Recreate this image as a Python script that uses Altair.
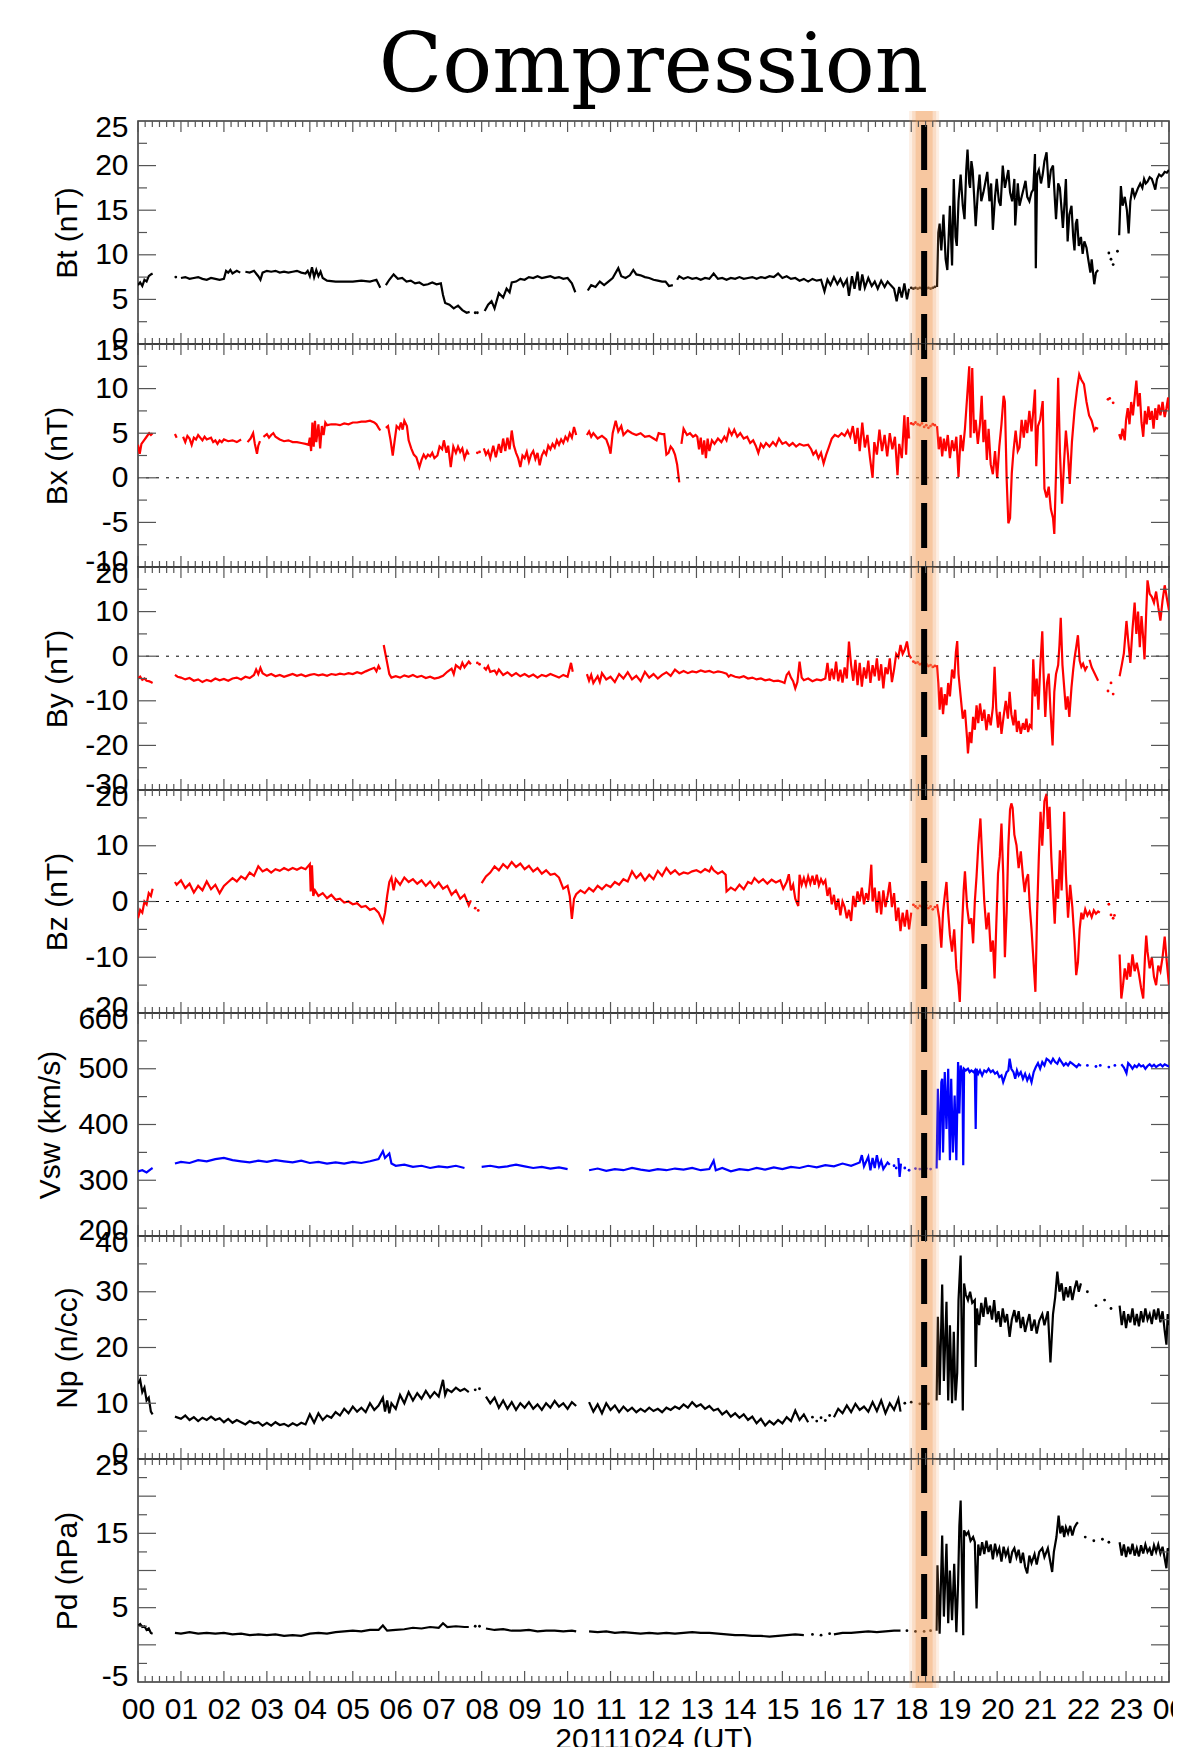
import altair as alt
import pandas as pd

W, H = 1031, 223
SHOCK_T = 18.3
TICK = "#555555"
FONT = "Liberation Sans"
TITLE_TEXT = ["Compression"]

# ---------------- data (hour, value) ----------------
BT_SEGS = [
    [(0.0,6.6),(0.05,6.9),(0.1,6.5),(0.15,7.2),(0.2,7.0),(0.25,7.6),(0.3,7.8),(0.34,7.9)],
    [(1.0,7.4),(1.1,7.5),(1.2,7.3),(1.3,7.4),(1.4,7.5),(1.5,7.3),(1.6,7.2),(1.7,7.4),(1.8,7.3),(1.9,7.2),(2.0,7.3),
     (2.05,8.2),(2.1,8.0),(2.15,8.3),(2.2,7.9),(2.3,8.2),(2.38,8.0)],
    [(2.5,8.1),(2.6,8.0),(2.7,8.2),(2.8,7.6),(2.85,7.2),(2.9,8.0),(3.0,8.2),(3.1,8.1),(3.2,8.2),(3.3,8.0),(3.4,8.1),
     (3.5,8.0),(3.6,8.1),(3.7,8.2),(3.8,8.0),(3.9,7.9),(3.95,8.2),(4.0,7.6),(4.05,8.6),(4.1,7.5),(4.15,8.3),(4.2,7.6),
     (4.25,8.1),(4.3,7.4),(4.4,7.1),(4.6,7.0),(4.8,7.0),(5.0,7.0),(5.2,7.1),(5.4,7.0),(5.55,7.2),(5.64,6.3)],
    [(5.77,6.6),(5.85,7.2),(5.95,7.8),(6.05,7.3),(6.15,7.4),(6.25,7.0),(6.35,7.1),(6.45,6.8),(6.55,6.9),(6.65,6.6),
     (6.75,6.7),(6.85,6.9),(6.95,6.7),(7.05,6.8),(7.1,5.5),(7.15,4.6),(7.25,4.4),(7.35,4.0),(7.45,4.3),(7.55,3.8),
     (7.65,3.5),(7.72,3.6)],
    [(8.07,3.7),(8.15,4.4),(8.23,4.8),(8.3,4.0),(8.4,5.7),(8.5,5.2),(8.58,6.2),(8.65,5.8),(8.7,6.9),(8.8,7.0),(8.9,7.3),
     (9.0,7.2),(9.1,7.5),(9.2,7.4),(9.3,7.6),(9.4,7.4),(9.5,7.5),(9.6,7.6),(9.7,7.4),(9.8,7.5),(9.9,7.3),(10.0,7.4),
     (10.1,6.8),(10.18,5.8)],
    [(10.47,6.0),(10.55,6.6),(10.65,6.4),(10.75,7.0),(10.85,6.6),(10.95,7.0),(11.05,7.4),(11.18,8.5),(11.25,7.6),
     (11.35,7.4),(11.45,7.7),(11.53,8.3),(11.6,7.8),(11.7,7.7),(11.8,7.5),(11.9,7.4),(12.0,7.2),(12.1,7.1),(12.2,7.0),
     (12.28,7.0),(12.36,6.5),(12.45,6.6)],
    [(12.55,7.2),(12.6,7.6),(12.7,7.3),(12.8,7.5),(12.9,7.3),(13.0,7.4),(13.1,7.2),(13.2,7.4),(13.3,7.3),(13.4,7.9),
     (13.5,7.3),(13.6,7.4),(13.7,7.2),(13.8,7.4),(13.9,7.3),(14.0,7.5),(14.1,7.3),(14.2,7.4),(14.3,7.5),(14.4,7.3),
     (14.5,7.5),(14.6,7.4),(14.7,7.6),(14.8,7.5),(14.9,7.9),(15.0,7.4),(15.1,7.6),(15.2,7.3),(15.3,7.4),(15.4,7.1),
     (15.5,7.3),(15.6,7.0),(15.7,7.3),(15.8,7.1),(15.9,7.2),(15.98,5.9),(16.05,7.2),(16.12,6.6),(16.2,7.5),(16.28,6.7),
     (16.35,7.3),(16.42,6.5),(16.5,7.2),(16.55,5.4),(16.62,7.6),(16.68,6.2),(16.75,8.1),(16.8,6.0),(16.86,7.8),
     (16.92,6.3),(17.0,7.4),(17.08,6.5),(17.15,7.0),(17.22,6.2),(17.3,7.1),(17.38,6.4),(17.45,7.0),(17.52,6.6),
     (17.6,6.2),(17.66,4.8),(17.72,6.4),(17.78,5.2),(17.84,6.8),(17.9,5.0),(17.95,6.2)],
    [(18.6,6.4),(18.63,12.5),(18.66,13.5),(18.7,10.5),(18.75,14.5),(18.8,9.5),(18.84,8.3),(18.9,15.5),(18.95,8.8),
     (18.99,18.5),(19.03,12.0),(19.06,11.0),(19.1,16.0),(19.15,19.0),(19.2,15.5),(19.24,14.0),(19.28,19.5),(19.31,21.8),
     (19.35,18.0),(19.37,17.5),(19.4,20.5),(19.43,19.5),(19.47,16.0),(19.5,13.2),(19.55,17.0),(19.59,19.0),(19.63,16.0),
     (19.68,17.0),(19.72,18.0),(19.77,19.3),(19.82,16.0),(19.86,18.0),(19.9,12.8),(19.95,16.5),(19.99,18.5),(20.04,16.0),
     (20.08,15.5),(20.13,20.0),(20.18,17.5),(20.22,18.5),(20.26,19.5),(20.3,17.0),(20.35,16.0),(20.4,18.5),(20.42,13.3),
     (20.48,18.0),(20.52,15.5),(20.57,16.5),(20.62,17.5),(20.66,18.3),(20.7,16.5),(20.75,16.0),(20.8,17.0),(20.84,17.3),
     (20.88,21.3),(20.9,8.5),(20.93,19.0),(20.97,19.5),(21.02,18.0),(21.06,19.0),(21.1,20.5),(21.15,21.5),(21.2,17.5),
     (21.25,19.5),(21.3,20.0),(21.34,16.5),(21.37,14.0),(21.42,18.0),(21.46,17.5),(21.5,15.0),(21.53,13.0),(21.57,16.0),
     (21.6,18.5),(21.64,11.5),(21.68,14.5),(21.73,15.5),(21.77,12.0),(21.8,10.5),(21.83,13.5),(21.86,14.0),(21.9,11.0),
     (21.95,12.0),(21.99,10.1),(22.03,11.5),(22.08,10.8),(22.12,9.5),(22.17,8.0),(22.2,9.5),(22.26,6.7),(22.3,8.0),
     (22.35,8.3)],
    [(22.84,12.2),(22.88,17.7),(22.92,15.5),(22.97,16.5),(23.02,15.0),(23.06,12.4),(23.1,16.0),(23.15,17.5),(23.2,16.5),
     (23.24,17.0),(23.28,17.5),(23.33,18.0),(23.38,17.5),(23.42,18.5),(23.46,18.0),(23.5,18.2),(23.55,18.7),(23.6,18.5),
     (23.65,17.8),(23.68,17.3),(23.72,18.5),(23.77,19.0),(23.82,18.8),(23.86,19.0),(23.9,19.3),(23.95,19.2),(24.0,19.5)],
]
BT_DOTS = [(0.88,7.5),(7.85,3.5),(7.9,3.5),(18.0,6.3),(18.05,6.2),(18.1,6.3),(18.15,6.2),(18.2,6.3),(18.25,6.2),
           (18.3,6.3),(18.35,6.2),(18.4,6.3),(18.45,6.2),(18.5,6.3),(18.55,6.4),(22.6,10.2),(22.65,9.5),(22.7,8.9),(22.8,10.4)]

BX_SEGS = [
    [(0.0,3.7),(0.04,2.7),(0.08,3.8),(0.14,4.2),(0.2,4.6),(0.26,5.0),(0.3,4.8),(0.34,5.0)],
    [(0.86,4.9),(0.9,4.5)],
    [(1.05,4.6),(1.1,4.0),(1.15,4.7),(1.2,4.4),(1.25,3.7),(1.3,4.5),(1.35,4.3),(1.4,4.8),(1.5,4.2),(1.55,4.6),(1.6,4.3),
     (1.7,4.5),(1.75,4.0),(1.8,4.2),(1.85,3.8),(1.9,4.2),(1.95,4.0),(2.0,4.3),(2.1,4.1),(2.2,4.2),(2.3,4.0),(2.4,4.3)],
    [(2.55,4.0),(2.62,4.4),(2.68,5.0),(2.72,3.8),(2.77,2.7),(2.8,3.6),(2.84,4.1)],
    [(2.92,4.6),(3.0,4.9),(3.05,4.5),(3.1,4.8),(3.15,5.0),(3.2,4.6),(3.3,4.3),(3.4,4.1),(3.5,4.2),(3.6,4.0),(3.7,4.0),
     (3.8,3.9),(3.9,3.8),(3.97,3.7),(4.0,4.5),(4.03,3.0),(4.06,6.2),(4.09,3.5),(4.12,6.4),(4.15,4.0),(4.2,6.0),(4.24,3.3),
     (4.28,5.8),(4.32,4.8),(4.36,6.2),(4.4,5.9),(4.5,6.0),(4.6,6.0),(4.7,5.9),(4.8,6.1),(4.9,6.0),(5.0,6.2),(5.1,6.2),
     (5.2,6.3),(5.3,6.3),(5.4,6.4),(5.5,6.2),(5.55,6.0),(5.6,5.6),(5.64,5.3)],
    [(5.77,5.6),(5.82,5.8),(5.88,4.2),(5.93,2.5),(5.97,4.0),(6.02,5.8),(6.08,5.5),(6.12,6.2),(6.16,5.4),(6.2,6.4),
     (6.26,5.8),(6.3,4.2),(6.36,3.3),(6.42,2.6),(6.48,2.3),(6.55,1.2),(6.6,2.0),(6.65,2.6),(6.7,2.2),(6.75,2.6),(6.8,2.4),
     (6.85,2.8),(6.9,2.2),(6.97,2.5),(7.02,3.5),(7.08,3.2),(7.12,4.2),(7.18,2.8),(7.22,3.6),(7.28,1.2),(7.34,3.5),(7.4,2.8),
     (7.45,3.5),(7.5,2.9),(7.55,3.3),(7.6,2.2),(7.66,3.0),(7.7,2.6)],
    [(8.05,3.3),(8.1,2.6),(8.15,3.0),(8.2,2.2),(8.27,3.6),(8.33,2.3),(8.4,3.8),(8.45,2.8),(8.5,4.4),(8.55,3.0),(8.6,4.5),
     (8.65,3.2),(8.7,5.3),(8.75,3.6),(8.8,2.8),(8.85,2.2),(8.9,1.2),(8.95,2.5),(9.0,2.2),(9.05,2.9),(9.1,1.8),(9.15,2.6),
     (9.2,3.0),(9.25,2.1),(9.3,2.8),(9.35,1.4),(9.4,2.5),(9.45,3.0),(9.5,2.6),(9.55,3.6),(9.6,3.2),(9.65,3.8),(9.7,3.4),
     (9.75,4.2),(9.8,3.7),(9.85,4.3),(9.9,3.9),(9.95,4.6),(10.0,4.2),(10.05,5.0),(10.1,4.5),(10.15,5.7),(10.2,4.8)],
    [(10.45,4.8),(10.5,5.2),(10.55,4.6),(10.6,5.0),(10.7,4.4),(10.8,4.7),(10.9,4.3),(10.96,3.5),(11.0,2.7),(11.05,5.0),
     (11.12,6.4),(11.18,5.2),(11.25,5.8),(11.3,4.8),(11.4,5.3),(11.5,5.0),(11.6,4.8),(11.7,5.0),(11.8,4.6),(11.9,4.7),
     (12.0,4.4),(12.07,4.2),(12.12,5.0),(12.2,4.9),(12.25,4.9),(12.3,2.6),(12.35,2.8),(12.4,3.5),(12.45,3.2),(12.5,2.6),
     (12.55,1.5),(12.6,-0.5)],
    [(12.65,3.8),(12.7,5.5),(12.78,4.8),(12.85,5.0),(12.92,4.6),(12.98,4.8),(13.02,4.6),(13.06,3.2),(13.1,4.5),
     (13.14,2.6),(13.18,4.2),(13.22,2.2),(13.26,4.4),(13.3,3.0),(13.36,4.2),(13.42,3.8),(13.5,4.4),(13.58,4.0),(13.65,4.6),
     (13.7,4.2),(13.76,5.4),(13.82,4.8),(13.88,5.4),(13.95,4.6),(14.02,5.0),(14.1,4.4),(14.18,4.6),(14.25,3.9),(14.32,4.2),
     (14.38,3.6),(14.44,2.8),(14.5,3.8),(14.56,3.4),(14.62,3.9),(14.7,3.5),(14.78,4.0),(14.85,3.6),(14.92,4.4),(15.0,3.8),
     (15.08,4.0),(15.16,3.6),(15.24,3.9),(15.32,3.5),(15.4,3.8),(15.5,3.6),(15.6,3.7),(15.67,3.2),(15.72,2.6),(15.78,3.0),
     (15.84,2.2),(15.9,2.8),(15.96,1.6),(16.02,2.6),(16.08,3.4),(16.15,4.4),(16.22,4.8),(16.3,4.6),(16.38,5.0),(16.45,4.7),
     (16.52,5.3),(16.58,4.6),(16.64,5.8),(16.7,3.8),(16.75,5.6),(16.8,3.0),(16.86,6.2),(16.92,3.4),(16.98,4.8),(17.04,2.2),
     (17.1,0.0),(17.14,4.0),(17.2,2.6),(17.26,5.4),(17.32,3.0),(17.38,4.8),(17.44,2.4),(17.5,5.0),(17.56,3.2),(17.62,4.6),
     (17.68,0.3),(17.72,3.8),(17.78,2.2),(17.84,7.0),(17.88,2.6),(17.92,6.8),(17.95,4.4)],
    [(18.6,5.8),(18.64,3.2),(18.68,4.6),(18.72,2.4),(18.76,4.4),(18.8,3.0),(18.85,4.8),(18.9,2.2),(18.95,4.2),(19.0,3.0),
     (19.05,4.6),(19.1,0.1),(19.15,4.8),(19.2,3.0),(19.25,5.5),(19.3,9.0),(19.35,12.5),(19.38,4.5),(19.42,12.3),
     (19.46,5.0),(19.5,6.5),(19.55,3.8),(19.6,6.0),(19.64,9.2),(19.68,4.0),(19.72,6.5),(19.76,2.0),(19.8,5.5),(19.85,1.5),
     (19.9,0.4),(19.95,3.0),(20.0,0.0),(20.05,3.5),(20.1,6.0),(20.15,9.2),(20.18,8.5),(20.22,0.0),(20.26,-5.1),
     (20.3,-4.5),(20.34,0.5),(20.38,3.0),(20.43,5.3),(20.48,3.0),(20.52,3.4),(20.57,6.5),(20.62,4.5),(20.66,6.5),
     (20.7,5.0),(20.75,7.5),(20.8,5.2),(20.85,8.0),(20.88,9.9),(20.91,1.3),(20.95,5.8),(21.0,6.5),(21.06,8.6),(21.1,-1.2),
     (21.15,-2.2),(21.2,-1.0),(21.25,-3.5),(21.3,-4.5),(21.33,-6.3),(21.37,0.5),(21.42,11.2),(21.46,3.0),(21.51,-2.9),
     (21.56,2.0),(21.6,5.3),(21.65,2.5),(21.69,-0.7),(21.74,4.0),(21.8,7.5),(21.86,10.0),(21.91,11.6),(21.96,11.0),
     (22.02,10.5),(22.08,8.5),(22.14,7.0),(22.2,6.4),(22.26,5.3),(22.3,5.6),(22.35,5.5)],
    [(22.84,4.9),(22.88,4.3),(22.92,5.5),(22.97,4.2),(23.0,6.5),(23.04,7.8),(23.08,6.0),(23.12,8.5),(23.16,7.0),(23.2,9.0),
     (23.24,10.9),(23.28,8.0),(23.32,9.5),(23.36,6.2),(23.4,4.6),(23.44,7.5),(23.48,6.0),(23.52,8.0),(23.56,6.5),
     (23.6,7.5),(23.64,5.5),(23.68,7.8),(23.72,6.5),(23.76,8.2),(23.8,7.0),(23.85,8.5),(23.9,6.8),(23.94,7.8),(23.98,9.0),
     (24.0,7.5)],
]
BX_DOTS = [(7.9,2.8),(7.95,2.9),(18.0,6.1),(18.05,6.0),(18.1,6.2),(18.15,6.0),(18.2,5.9),(18.25,6.1),(18.3,5.7),
           (18.35,5.9),(18.4,5.6),(18.45,5.8),(18.5,6.0),(18.55,5.9),(22.58,8.8),(22.62,8.9),(22.7,8.4)]

BY_SEGS = [
    [(0.0,-5.0),(0.05,-4.6),(0.1,-5.3),(0.15,-5.0),(0.2,-5.5),(0.25,-5.6),(0.3,-5.8),(0.34,-6.0)],
    [(0.86,-4.2),(0.92,-4.6),(1.0,-4.8),(1.1,-5.2),(1.2,-4.9),(1.3,-5.5),(1.4,-5.2),(1.5,-5.8),(1.6,-5.3),(1.7,-5.6),
     (1.8,-5.0),(1.9,-5.4),(2.0,-5.1),(2.1,-5.5),(2.2,-5.0),(2.3,-4.8),(2.4,-5.2),(2.5,-4.6),(2.6,-4.9),(2.7,-4.2),
     (2.75,-3.0),(2.8,-4.0),(2.85,-2.6),(2.9,-3.8),(3.0,-4.4),(3.1,-4.0),(3.2,-4.5),(3.3,-4.2),(3.4,-4.6),(3.5,-4.3),
     (3.6,-4.0),(3.7,-4.4),(3.8,-4.1),(3.9,-4.5),(4.0,-4.2),(4.1,-4.0),(4.2,-4.3),(4.3,-4.1),(4.4,-4.4),(4.5,-4.0),
     (4.6,-4.2),(4.7,-3.9),(4.8,-4.1),(4.9,-3.8),(5.0,-4.0),(5.1,-3.6),(5.2,-3.9),(5.3,-3.4),(5.4,-3.0),(5.5,-2.6),
     (5.55,-3.4),(5.6,-2.2),(5.64,-3.0)],
    [(5.72,2.5),(5.75,1.0),(5.8,-1.5),(5.85,-4.0),(5.9,-4.8),(6.0,-4.5),(6.1,-4.8),(6.2,-4.3),(6.3,-4.6),(6.4,-4.2),
     (6.5,-4.7),(6.6,-4.4),(6.7,-4.9),(6.8,-4.6),(6.9,-5.0),(7.0,-4.8),(7.1,-4.4),(7.2,-3.5),(7.3,-2.8),(7.35,-4.0),
     (7.4,-2.0),(7.5,-2.8),(7.55,-1.5),(7.6,-2.5),(7.7,-1.2),(7.75,-1.8)],
    [(8.05,-2.5),(8.1,-3.0),(8.15,-2.2),(8.2,-3.5),(8.3,-3.2),(8.35,-4.0),(8.4,-3.0),(8.5,-4.2),(8.6,-3.6),(8.7,-4.4),
     (8.8,-3.8),(8.9,-4.5),(9.0,-4.0),(9.1,-4.6),(9.2,-4.1),(9.3,-4.8),(9.4,-4.2),(9.5,-4.5),(9.6,-4.0),(9.7,-4.4),
     (9.8,-4.8),(9.9,-4.2),(10.0,-4.6),(10.08,-1.5),(10.12,-3.5)],
    [(10.45,-4.0),(10.5,-5.5),(10.55,-4.2),(10.6,-6.0),(10.7,-4.5),(10.75,-5.8),(10.8,-3.8),(10.9,-5.2),(11.0,-4.6),
     (11.1,-5.8),(11.2,-4.0),(11.3,-5.0),(11.4,-3.6),(11.5,-5.2),(11.6,-4.4),(11.7,-5.6),(11.8,-3.5),(11.9,-4.8),
     (12.0,-4.0),(12.1,-5.0),(12.2,-4.2),(12.3,-3.6),(12.4,-4.4),(12.5,-3.0),(12.6,-3.8),(12.7,-3.3),(12.8,-3.8),
     (12.9,-3.4),(13.0,-3.6),(13.1,-3.2),(13.2,-3.5),(13.3,-3.3),(13.4,-3.7),(13.5,-3.4),(13.6,-3.6),(13.7,-3.9),
     (13.75,-4.6),(13.8,-4.2),(13.9,-4.6),(14.0,-4.8),(14.1,-4.5),(14.2,-5.0),(14.3,-4.8),(14.4,-5.2),(14.5,-5.0),
     (14.6,-5.4),(14.7,-5.2),(14.8,-5.6),(14.9,-5.5),(15.0,-5.8),(15.05,-6.0),(15.1,-4.2),(15.15,-3.6),(15.2,-4.8),
     (15.25,-5.6),(15.3,-7.2),(15.35,-5.8),(15.4,-1.2),(15.45,-4.8),(15.5,-5.4),(15.6,-5.0),(15.7,-5.6),(15.8,-5.2),
     (15.9,-5.4),(16.0,-5.0),(16.05,-1.5),(16.1,-5.5),(16.15,-2.8),(16.2,-5.2),(16.25,-1.2),(16.3,-5.6),(16.35,-3.0),
     (16.4,-5.9),(16.45,-2.5),(16.5,-5.0),(16.55,3.3),(16.6,-2.0),(16.65,-5.5),(16.7,-0.8),(16.75,-6.5),(16.8,-1.5),
     (16.85,-6.8),(16.9,-2.5),(16.95,-5.0),(17.0,-1.0),(17.05,-6.0),(17.1,-2.0),(17.15,-4.5),(17.2,-0.5),(17.25,-5.5),
     (17.3,-1.8),(17.35,-7.2),(17.4,-2.5),(17.45,-4.0),(17.5,-0.5),(17.55,-5.8),(17.6,-3.0),(17.65,0.5),(17.7,-0.2),
     (17.75,2.5),(17.8,0.5),(17.85,1.5),(17.9,3.3),(17.95,0.3),(18.0,-0.5)],
    [(18.6,-2.0),(18.63,-6.0),(18.66,-12.0),(18.7,-7.0),(18.74,-13.0),(18.78,-8.5),(18.82,-11.0),(18.86,-6.0),(18.9,-9.0),
     (18.95,-3.0),(19.0,-5.0),(19.04,1.0),(19.07,3.4),(19.1,-4.0),(19.15,-9.0),(19.2,-14.0),(19.25,-12.0),(19.3,-18.5),
     (19.32,-21.8),(19.36,-17.0),(19.4,-19.5),(19.44,-13.6),(19.48,-16.5),(19.52,-11.0),(19.56,-15.0),(19.6,-10.6),
     (19.65,-14.5),(19.7,-12.0),(19.75,-16.6),(19.8,-13.0),(19.85,-15.5),(19.9,-11.5),(19.94,-2.4),(19.98,-12.0),
     (20.02,-16.0),(20.06,-12.5),(20.1,-17.4),(20.15,-13.5),(20.2,-10.0),(20.25,-14.0),(20.29,-8.0),(20.33,-13.0),
     (20.38,-15.5),(20.42,-12.0),(20.46,-17.0),(20.5,-14.5),(20.55,-17.4),(20.6,-15.0),(20.64,-16.5),(20.68,-14.0),
     (20.72,-17.0),(20.76,-15.5),(20.8,-16.0),(20.84,-0.7),(20.88,-9.0),(20.92,-5.0),(20.96,-12.0),(21.0,-3.0),
     (21.05,5.6),(21.08,-4.0),(21.12,-13.6),(21.16,-6.0),(21.2,-3.9),(21.24,-12.0),(21.29,-20.0),(21.33,-8.0),
     (21.37,-4.0),(21.42,-2.0),(21.45,2.5),(21.48,8.6),(21.52,-2.0),(21.56,-7.0),(21.6,-12.0),(21.64,-9.0),
     (21.68,-13.6),(21.73,-7.0),(21.77,-3.0),(21.8,-0.5),(21.84,2.0),(21.88,4.7),(21.92,-1.0),(21.96,-2.4),(22.0,-1.7),
     (22.05,-3.1),(22.1,-2.2)],
    [(22.15,-0.8),(22.2,-2.5),(22.25,-3.5),(22.3,-4.5),(22.35,-5.5)],
    [(22.85,-4.5),(22.9,-2.0),(22.95,0.7),(23.01,7.9),(23.05,3.5),(23.1,-1.5),(23.15,6.0),(23.2,12.0),(23.24,5.0),
     (23.28,10.0),(23.32,2.0),(23.36,9.0),(23.4,4.0),(23.43,-0.7),(23.47,10.0),(23.5,17.0),(23.55,14.0),(23.6,13.3),
     (23.65,12.0),(23.7,14.5),(23.75,11.0),(23.8,8.0),(23.85,12.5),(23.9,15.9),(23.95,13.0),(24.0,10.3)],
]
BY_DOTS = [(7.9,-1.5),(7.95,-1.8),(18.05,-1.2),(18.1,-1.5),(18.15,-1.4),(18.2,-1.8),(18.25,-1.6),(18.3,-2.0),
           (18.35,-1.8),(18.4,-2.2),(18.45,-2.0),(18.5,-2.4),(18.55,-2.2),(22.58,-7.8),(22.65,-6.0),(22.7,-8.5)]

BZ_SEGS = [
    [(0.0,-3.0),(0.05,-1.5),(0.1,-2.0),(0.15,0.0),(0.2,-0.5),(0.25,1.5),(0.3,1.0),(0.34,2.3)],
    [(0.86,3.5),(0.9,3.0),(1.0,3.8),(1.1,2.4),(1.2,3.2),(1.3,1.6),(1.4,2.8),(1.5,2.0),(1.6,3.6),(1.7,2.2),(1.8,3.0),
     (1.9,1.5),(2.0,2.8),(2.1,3.5),(2.2,4.2),(2.3,3.6),(2.4,4.5),(2.5,4.0),(2.6,5.2),(2.7,4.6),(2.8,6.3),(2.9,5.4),
     (3.0,5.8),(3.1,5.2),(3.2,5.8),(3.3,5.5),(3.4,6.0),(3.5,5.6),(3.6,6.0),(3.7,5.7),(3.8,6.1),(3.9,5.8),(4.0,6.7),
     (4.02,1.8),(4.05,6.5),(4.08,1.0),(4.12,2.0),(4.2,1.0),(4.3,1.5),(4.4,0.6),(4.5,1.2),(4.6,0.3),(4.7,0.5),(4.8,-0.2),
     (4.9,0.0),(5.0,-0.5),(5.1,-0.3),(5.2,-1.0),(5.3,-0.8),(5.4,-1.5),(5.5,-1.2),(5.6,-2.0),(5.7,-3.7),(5.75,-2.0),
     (5.8,1.0),(5.85,3.5),(5.9,4.3),(5.95,2.0),(6.0,4.0),(6.1,3.0),(6.2,4.3),(6.3,3.5),(6.4,4.0),(6.5,3.2),(6.6,3.8),
     (6.7,2.8),(6.8,3.6),(6.9,2.5),(7.0,3.4),(7.1,2.3),(7.2,2.8),(7.3,1.2),(7.4,2.0),(7.5,0.5),(7.6,1.2),(7.7,-0.7),
     (7.75,0.2)],
    [(8.0,3.3),(8.1,4.5),(8.2,5.2),(8.3,6.3),(8.4,5.6),(8.5,6.7),(8.6,6.0),(8.7,7.1),(8.8,6.2),(8.9,6.8),(9.0,5.8),
     (9.1,6.4),(9.2,5.4),(9.3,6.0),(9.4,5.0),(9.5,5.6),(9.6,4.8),(9.7,5.0),(9.8,4.3),(9.9,2.3),(10.0,2.8),(10.05,1.0),
     (10.1,-3.1),(10.15,0.5),(10.2,1.3),(10.3,2.0),(10.4,1.5),(10.5,2.4),(10.6,1.8),(10.7,2.8),(10.8,2.2),(10.9,3.0),
     (11.0,2.6),(11.1,3.5),(11.2,3.0),(11.3,4.0),(11.4,3.6),(11.5,5.4),(11.6,4.2),(11.7,5.0),(11.8,3.8),(11.9,4.8),
     (12.0,4.0),(12.1,5.5),(12.2,4.6),(12.3,6.0),(12.4,5.0),(12.5,5.6),(12.6,4.8),(12.7,5.2),(12.8,5.0),(12.9,5.4),
     (13.0,5.6),(13.1,5.2),(13.2,5.8),(13.3,5.4),(13.35,6.2),(13.4,5.6),(13.5,5.0),(13.6,5.4),(13.68,4.8),(13.7,1.8),
     (13.8,2.5),(13.9,2.0),(14.0,3.0),(14.1,2.2),(14.2,3.5),(14.28,3.2),(14.35,4.2),(14.45,3.4),(14.55,4.0),(14.65,3.2),
     (14.75,3.9),(14.85,3.4),(14.95,3.8),(15.02,2.3),(15.1,3.5),(15.15,4.9),(15.2,2.0),(15.25,3.0),(15.3,0.5),
     (15.37,-0.8),(15.4,4.8),(15.45,3.0),(15.5,4.2),(15.55,2.9),(15.6,4.5),(15.65,3.2),(15.7,4.6),(15.75,3.0),(15.8,4.8),
     (15.85,2.9),(15.9,4.0),(15.95,3.2),(16.0,3.8),(16.05,1.0),(16.1,2.5),(16.15,-0.5),(16.2,1.2),(16.25,-1.5),(16.3,0.5),
     (16.35,-2.5),(16.4,0.0),(16.45,-1.0),(16.5,-3.0),(16.55,-1.5),(16.6,-3.5),(16.65,1.0),(16.7,-1.0),(16.75,1.8),
     (16.8,0.0),(16.85,2.5),(16.9,-0.5),(16.95,1.5),(17.0,0.2),(17.04,3.5),(17.07,6.6),(17.1,0.0),(17.15,2.5),
     (17.2,-2.0),(17.25,1.8),(17.3,-2.3),(17.35,2.0),(17.4,-1.0),(17.45,1.0),(17.5,3.5),(17.55,-1.0),(17.6,1.5),
     (17.65,-3.5),(17.7,-1.1),(17.75,-5.3),(17.8,-2.0),(17.85,-4.5),(17.9,-1.5),(17.95,-5.0),(18.0,-2.0)],
    [(18.6,-0.5),(18.65,-3.0),(18.7,-8.3),(18.74,-2.0),(18.78,1.0),(18.82,3.5),(18.86,-2.0),(18.9,-6.0),(18.95,-9.0),
     (19.0,-5.0),(19.05,-12.0),(19.1,-15.0),(19.13,-18.0),(19.18,-5.0),(19.22,2.0),(19.25,5.4),(19.3,-1.0),(19.35,-4.0),
     (19.4,-3.0),(19.44,-7.5),(19.48,0.0),(19.52,4.5),(19.56,10.0),(19.61,14.9),(19.65,8.0),(19.7,0.0),(19.75,-5.0),
     (19.8,-2.0),(19.85,-9.0),(19.9,-7.0),(19.94,-13.8),(19.98,-4.0),(20.02,5.0),(20.06,8.0),(20.1,14.0),(20.14,5.0),
     (20.18,-10.0),(20.22,-2.0),(20.26,10.0),(20.3,16.5),(20.33,17.6),(20.36,16.8),(20.4,12.0),(20.45,10.1),(20.5,6.0),
     (20.55,9.0),(20.6,4.5),(20.64,1.7),(20.68,4.0),(20.72,4.9),(20.76,-1.0),(20.8,-5.0),(20.84,-10.0),(20.89,-16.2),
     (20.93,-2.0),(20.97,8.0),(21.01,16.1),(21.05,10.0),(21.1,18.0),(21.15,19.3),(21.18,13.0),(21.22,17.0),(21.26,8.0),
     (21.3,2.0),(21.34,-4.0),(21.38,4.0),(21.42,0.5),(21.46,9.2),(21.5,2.0),(21.53,8.0),(21.56,16.1),(21.6,5.0),
     (21.65,-2.9),(21.7,3.0),(21.75,-1.0),(21.8,-7.0),(21.84,-13.2),(21.88,-10.9),(21.92,-5.0),(21.96,-2.0),(22.0,-3.2),
     (22.05,-1.4),(22.1,-2.5),(22.15,-1.8),(22.2,-2.8),(22.25,-1.6),(22.3,-2.2),(22.35,-1.8),(22.39,-2.0)],
    [(22.85,-9.5),(22.89,-17.4),(22.93,-15.0),(22.97,-12.0),(23.02,-14.0),(23.06,-11.0),(23.1,-13.5),(23.15,-9.5),
     (23.2,-12.5),(23.25,-11.0),(23.3,-13.0),(23.35,-15.5),(23.4,-17.4),(23.44,-10.0),(23.47,-6.1),(23.5,-9.0),
     (23.55,-12.0),(23.6,-10.0),(23.65,-13.5),(23.7,-15.0),(23.75,-11.5),(23.8,-12.5),(23.85,-10.0),(23.9,-6.3),
     (23.95,-11.0),(24.0,-15.0)],
]
BZ_DOTS = [(7.85,-1.2),(7.92,-1.6),(18.05,-0.6),(18.1,-0.9),(18.15,-1.2),(18.2,-0.8),(18.25,-1.0),(18.3,1.5),
           (18.35,-0.7),(18.4,-1.2),(18.45,-0.9),(18.5,-1.4),(18.55,-1.0),(22.6,-0.5),(22.65,-2.4),(22.7,-3.0),(22.73,-2.5)]

VSW_SEGS = [
    [(0.0,316),(0.1,318),(0.2,314),(0.3,320),(0.34,322)],
    [(0.86,330),(1.0,333),(1.2,331),(1.4,336),(1.6,334),(1.8,338),(2.0,340),(2.2,336),(2.4,334),(2.6,332),(2.8,335),
     (3.0,333),(3.2,336),(3.4,334),(3.6,332),(3.8,335),(4.0,331),(4.2,333),(4.4,330),(4.6,332),(4.8,330),(5.0,333),
     (5.2,331),(5.4,334),(5.6,338),(5.7,352),(5.75,340),(5.85,348),(5.9,330),(6.0,326),(6.2,328),(6.4,324),(6.6,326),
     (6.8,322),(7.0,325),(7.2,323),(7.4,326),(7.6,322)],
    [(8.0,324),(8.2,326),(8.4,323),(8.6,325),(8.8,328),(9.0,325),(9.2,322),(9.4,324),(9.6,321),(9.8,323),(10.0,320)],
    [(10.5,318),(10.7,321),(10.9,317),(11.1,320),(11.3,318),(11.5,322),(11.7,319),(11.9,317),(12.1,320),(12.3,318),
     (12.5,321),(12.7,319),(12.9,322),(13.1,318),(13.3,320),(13.4,335),(13.45,318),(13.6,322),(13.8,316),(14.0,320),
     (14.2,318),(14.4,322),(14.6,319),(14.8,323),(15.0,320),(15.2,324),(15.4,322),(15.6,326),(15.8,323),(16.0,327),
     (16.2,325),(16.4,330),(16.6,326),(16.8,332),(16.85,345),(16.9,325),(17.0,342),(17.05,318),(17.1,340),(17.15,322),
     (17.2,345),(17.25,325),(17.3,335),(17.35,320),(17.45,332),(17.5,328)],
    [(17.7,340),(17.73,306),(17.76,330)],
    [(18.59,321),(18.62,464),(18.66,336),(18.7,476),(18.72,482),(18.74,350),(18.78,494),(18.82,392),(18.86,500),
     (18.9,336),(18.93,482),(18.97,350),(19.01,452),(19.05,336),(19.09,512),(19.12,420),(19.15,506),(19.19,494),
     (19.21,327),(19.23,500),(19.27,497),(19.32,500),(19.36,494),(19.4,497),(19.45,494),(19.48,497),(19.5,392),
     (19.52,500),(19.56,491),(19.6,497),(19.65,488),(19.7,497),(19.75,494),(19.8,500),(19.85,494),(19.9,497),(19.95,491),
     (20.0,494),(20.05,485),(20.1,488),(20.14,476),(20.18,485),(20.22,494),(20.26,497),(20.29,518),(20.33,500),
     (20.38,494),(20.42,482),(20.46,497),(20.5,488),(20.55,494),(20.6,482),(20.65,491),(20.7,479),(20.75,488),(20.8,476),
     (20.85,494),(20.9,503),(20.95,510),(21.0,500),(21.05,512),(21.1,506),(21.15,518),(21.2,515),(21.25,510),(21.3,518),
     (21.35,512),(21.4,509),(21.45,518),(21.5,512),(21.55,506),(21.6,510),(21.65,506),(21.7,512),(21.75,509),
     (21.8,506),(21.85,503),(21.9,508),(21.95,505)],
    [(22.89,508),(22.95,502),(23.01,492),(23.05,510),(23.1,506),(23.15,500),(23.2,506),(23.25,503),(23.3,508),
     (23.35,504),(23.4,506),(23.45,500),(23.5,505),(23.55,508),(23.6,504),(23.65,507),(23.7,503),(23.75,506),(23.8,508),
     (23.85,504),(23.9,508),(23.95,506),(24.0,504)],
]
VSW_DOTS = [(17.6,326),(17.65,322),(17.85,322),(17.95,318),(18.1,321),(18.2,320),(18.35,321),(18.45,320),
            (22.1,506),(22.3,504),(22.4,506),(22.6,503),(22.74,506)]

NP_SEGS = [
    [(0.0,13.5),(0.05,14.2),(0.1,12.0),(0.15,12.8),(0.2,10.5),(0.25,11.0),(0.3,8.5),(0.34,8.0)],
    [(0.86,7.6),(1.0,7.2),(1.1,7.8),(1.2,7.0),(1.3,7.5),(1.4,6.8),(1.5,7.4),(1.6,7.0),(1.7,7.6),(1.8,7.0),(1.9,7.3),
     (2.0,6.6),(2.1,7.2),(2.2,6.5),(2.3,7.0),(2.4,6.6),(2.5,6.2),(2.6,6.8),(2.7,6.4),(2.8,6.6),(2.9,6.0),(3.0,6.5),
     (3.1,6.0),(3.2,6.6),(3.3,6.1),(3.4,6.3),(3.5,5.9),(3.6,6.4),(3.7,6.0),(3.8,6.5),(3.9,6.2),(4.0,8.0),(4.1,6.5),
     (4.2,8.2),(4.3,7.0),(4.4,7.8),(4.5,7.4),(4.6,8.4),(4.7,7.8),(4.8,9.0),(4.9,8.2),(5.0,9.4),(5.1,8.5),(5.2,9.2),
     (5.3,8.4),(5.4,10.0),(5.5,8.8),(5.6,9.6),(5.7,11.0),(5.75,8.5),(5.8,10.5),(5.85,8.2),(5.9,10.0),(6.0,9.0),(6.1,11.5),
     (6.2,10.0),(6.3,12.0),(6.4,10.5),(6.5,11.8),(6.6,10.8),(6.7,12.2),(6.8,11.0),(6.9,12.0),(7.0,11.2),(7.1,14.2),
     (7.15,11.5),(7.2,12.5),(7.3,12.0),(7.4,12.8),(7.5,12.2),(7.6,12.6),(7.7,12.0)],
    [(8.1,11.2),(8.2,10.0),(8.3,11.0),(8.4,9.2),(8.5,10.5),(8.6,9.0),(8.7,10.2),(8.8,8.8),(8.9,10.0),(9.0,9.2),(9.1,10.2),
     (9.2,9.0),(9.3,9.8),(9.4,8.8),(9.5,10.0),(9.6,9.2),(9.7,10.4),(9.8,9.4),(9.9,10.0),(10.0,9.0),(10.1,10.2),(10.2,9.5)],
    [(10.5,10.2),(10.6,8.5),(10.7,9.8),(10.8,8.2),(10.9,10.0),(11.0,8.8),(11.1,9.6),(11.2,8.4),(11.3,9.4),(11.4,8.6),
     (11.5,9.2),(11.6,8.4),(11.7,9.0),(11.8,8.5),(11.9,9.2),(12.0,8.6),(12.1,9.0),(12.2,8.4),(12.3,9.2),(12.4,8.8),
     (12.5,9.4),(12.6,9.0),(12.7,9.8),(12.8,9.2),(12.9,10.2),(13.0,9.4),(13.1,9.8),(13.2,9.0),(13.3,9.5),(13.4,8.7),
     (13.5,9.0),(13.6,8.0),(13.7,8.6),(13.8,7.6),(13.9,8.2),(14.0,7.4),(14.1,8.0),(14.2,7.0),(14.3,7.6),(14.4,6.4),
     (14.5,7.2),(14.6,6.0),(14.7,6.8),(14.8,6.2),(14.9,7.0),(15.0,6.4),(15.1,7.5),(15.2,6.8),(15.3,8.7),(15.4,7.0),
     (15.5,8.0),(15.6,6.6)],
    [(16.2,7.5),(16.3,9.0),(16.4,8.2),(16.5,9.6),(16.6,8.4),(16.7,9.9),(16.8,8.8),(16.9,9.4),(17.0,8.5),(17.1,10.2),
     (17.2,8.6),(17.3,10.5),(17.4,8.2),(17.5,10.0),(17.6,8.8),(17.7,10.8),(17.75,8.5)],
    [(18.59,10.5),(18.62,25.5),(18.66,11.5),(18.72,31.3),(18.76,14.0),(18.82,28.2),(18.86,10.5),(18.9,24.0),(18.95,10.0),
     (18.99,22.8),(19.03,10.5),(19.07,15.5),(19.1,28.5),(19.15,36.5),(19.2,8.7),(19.23,31.5),(19.27,29.5),(19.32,28.5),
     (19.37,30.0),(19.42,28.0),(19.48,28.5),(19.5,16.5),(19.53,27.0),(19.58,24.0),(19.63,28.0),(19.68,25.5),(19.73,29.0),
     (19.78,26.0),(19.83,27.5),(19.88,25.0),(19.93,28.5),(19.98,24.5),(20.03,26.5),(20.08,23.7),(20.13,27.0),
     (20.18,24.5),(20.23,26.0),(20.29,21.9),(20.34,25.0),(20.4,26.7),(20.45,24.5),(20.5,26.5),(20.55,23.5),(20.6,25.5),
     (20.65,22.8),(20.7,24.5),(20.75,26.0),(20.8,23.0),(20.87,25.0),(20.92,22.5),(20.98,24.8),(21.05,26.0),(21.1,24.0),
     (21.18,26.5),(21.24,17.3),(21.3,26.0),(21.35,29.0),(21.4,33.6),(21.45,30.0),(21.5,31.5),(21.55,28.4),(21.6,30.8),
     (21.65,29.0),(21.7,31.0),(21.75,28.5),(21.8,30.5),(21.85,32.0),(21.9,30.0),(21.95,31.5)],
    [(22.85,27.5),(22.9,24.0),(22.95,26.5),(23.0,23.5),(23.05,26.0),(23.1,24.5),(23.15,27.0),(23.2,24.0),(23.25,26.0),
     (23.3,23.8),(23.35,26.5),(23.4,24.5),(23.45,27.0),(23.5,25.0),(23.55,26.0),(23.6,24.2),(23.65,26.8),(23.7,25.0),
     (23.75,27.0),(23.8,24.5),(23.85,26.5),(23.9,23.0),(23.94,20.5),(23.97,26.0),(24.0,24.0)],
]
NP_DOTS = [(7.85,12.4),(7.95,12.6),(15.7,7.5),(15.8,6.8),(15.9,7.4),(16.0,6.9),(16.1,7.8),(17.85,10.0),(18.0,10.2),
           (18.2,9.9),(18.4,9.9),(22.1,30.0),(22.3,27.5),(22.5,28.5),(22.65,27.0)]

PD_SEGS = [
    [(0.0,2.6),(0.05,2.8),(0.1,2.4),(0.15,2.5),(0.2,2.0),(0.25,2.2),(0.3,1.6),(0.34,1.5)],
    [(0.86,1.6),(1.0,1.5),(1.2,1.7),(1.4,1.5),(1.6,1.6),(1.8,1.5),(2.0,1.6),(2.2,1.4),(2.4,1.5),(2.6,1.3),(2.8,1.4),
     (3.0,1.3),(3.2,1.4),(3.4,1.2),(3.6,1.3),(3.8,1.2),(4.0,1.5),(4.2,1.6),(4.4,1.5),(4.6,1.7),(4.8,1.8),(5.0,1.9),
     (5.2,1.8),(5.4,2.0),(5.6,2.0),(5.7,2.6),(5.8,1.9),(6.0,2.0),(6.2,2.1),(6.4,2.3),(6.6,2.2),(6.8,2.4),(7.0,2.3),
     (7.1,2.9),(7.2,2.4),(7.4,2.5),(7.6,2.4),(7.7,2.4)],
    [(8.1,2.2),(8.3,2.0),(8.5,2.1),(8.7,1.9),(8.9,1.9),(9.1,2.0),(9.3,1.8),(9.5,1.9),(9.7,1.9),(9.9,1.8),(10.1,1.9),
     (10.2,1.8)],
    [(10.5,1.8),(10.7,1.7),(10.9,1.8),(11.1,1.6),(11.3,1.7),(11.5,1.6),(11.7,1.5),(11.9,1.6),(12.1,1.5),(12.3,1.6),
     (12.5,1.5),(12.7,1.6),(12.9,1.7),(13.1,1.6),(13.3,1.6),(13.5,1.5),(13.7,1.4),(13.9,1.3),(14.1,1.3),(14.3,1.2),
     (14.5,1.2),(14.7,1.1),(14.9,1.2),(15.1,1.3),(15.3,1.4),(15.5,1.3)],
    [(16.2,1.4),(16.4,1.6),(16.6,1.6),(16.8,1.7),(17.0,1.8),(17.2,1.7),(17.4,1.8),(17.6,1.9),(17.75,1.9)],
    [(18.59,1.9),(18.61,10.7),(18.66,1.5),(18.72,14.7),(18.76,3.8),(18.82,13.6),(18.86,2.9),(18.9,10.0),(18.95,3.3),
     (19.0,10.9),(19.05,1.7),(19.09,8.2),(19.12,16.0),(19.15,19.4),(19.21,1.3),(19.23,15.4),(19.28,14.8),(19.33,15.2),
     (19.38,14.0),(19.44,14.5),(19.48,13.8),(19.52,4.9),(19.56,13.5),(19.6,12.0),(19.65,13.8),(19.7,12.2),(19.75,14.0),
     (19.8,12.5),(19.85,13.5),(19.9,11.5),(19.95,13.6),(20.0,12.2),(20.05,13.0),(20.1,11.2),(20.15,13.2),(20.2,12.0),
     (20.25,12.8),(20.3,11.0),(20.35,12.5),(20.4,13.0),(20.45,11.8),(20.5,12.8),(20.55,11.0),(20.6,12.4),(20.65,10.5),
     (20.7,9.6),(20.75,12.0),(20.8,11.0),(20.87,12.2),(20.92,10.8),(20.98,12.5),(21.05,13.0),(21.1,11.8),(21.18,13.0),
     (21.28,9.8),(21.32,12.5),(21.38,14.5),(21.43,17.4),(21.47,15.0),(21.52,16.0),(21.56,14.5),(21.6,15.8),(21.65,15.0),
     (21.7,16.0),(21.75,14.7),(21.8,15.8),(21.85,16.3),(21.88,16.5)],
    [(22.85,13.8),(22.9,12.0),(22.95,13.5),(23.0,11.8),(23.05,13.2),(23.1,12.2),(23.15,13.6),(23.2,12.0),(23.25,13.0),
     (23.3,11.9),(23.35,13.4),(23.4,12.3),(23.45,13.5),(23.5,12.5),(23.55,13.0),(23.6,12.0),(23.65,13.4),(23.7,12.5),
     (23.75,13.5),(23.8,12.3),(23.85,13.2),(23.9,11.6),(23.94,10.3),(23.97,13.0),(24.0,12.5)],
]
PD_DOTS = [(7.85,2.5),(7.95,2.5),(15.7,1.4),(15.9,1.3),(16.1,1.5),(17.9,1.9),(18.1,1.8),(18.3,1.8),(18.45,1.9),
           (22.05,14.5),(22.25,14.0),(22.45,14.2),(22.6,13.8)]

# panel definitions: title, segments, dots, colour, y-domain, major labels, minor step, zero line
PANELS = [
    ("Bt (nT)", BT_SEGS, BT_DOTS, "black", [0, 25], [0, 5, 10, 15, 20, 25], 2.5, False),
    ("Bx (nT)", BX_SEGS, BX_DOTS, "#ff0000", [-10, 15], [-10, -5, 0, 5, 10, 15], 2.5, True),
    ("By (nT)", BY_SEGS, BY_DOTS, "#ff0000", [-30, 20], [-30, -20, -10, 0, 10, 20], 5, True),
    ("Bz (nT)", BZ_SEGS, BZ_DOTS, "#ff0000", [-20, 20], [-20, -10, 0, 10, 20], 5, True),
    ("Vsw (km/s)", VSW_SEGS, VSW_DOTS, "#0000ff", [200, 600], [200, 300, 400, 500, 600], 50, False),
    ("Np (n/cc)", NP_SEGS, NP_DOTS, "black", [0, 40], [0, 10, 20, 30, 40], 5, False),
    ("Pd (nPa)", PD_SEGS, PD_DOTS, "black", [-5, 25], [-5, 0, 5, 10, 15, 20, 25], 2.5, False),
]

X_MAJOR = list(range(25))
X_MINOR = [h + k / 6 for h in range(24) for k in range(1, 6)]

DASH_PERIOD = 63
N = len(PANELS)


def make_panel(i, title, segs, dots, color, domain, majors, minor_step, zero):
    first, last = i == 0, i == N - 1
    rows = [{"t": t, "v": v, "seg": k} for k, s in enumerate(segs) for (t, v) in s]
    df = pd.DataFrame(rows)
    ddf = pd.DataFrame([{"t": t, "v": v} for (t, v) in dots])
    xs = alt.Scale(domain=[0, 24], nice=False, zero=False)
    ys = alt.Scale(domain=domain, nice=False, zero=False)

    if last:
        xaxis = alt.Axis(values=X_MAJOR, title="20111024 (UT)", ticks=False, domain=False, grid=False,
                         labelPadding=12, labelFontSize=30, labelFont=FONT, labelColor="black",
                         labelExpr="datum.value == 24 ? '00' : (datum.value < 10 ? '0' + datum.value : '' + datum.value)",
                         labelOverlap=False, labelFlush=False, labelBound=False,
                         titleFont=FONT, titleFontSize=30, titleFontWeight="normal", titleColor="black", titlePadding=0)
    else:
        xaxis = None
    yaxis = alt.Axis(values=majors, title=title, ticks=False, domain=False, grid=False, labelPadding=10,
                     labelFlush=True, labelFlushOffset=9, labelOverlap=False, labelFontSize=30, labelFont=FONT,
                     labelColor="black", labelExpr="'' + datum.value",
                     titleFont=FONT, titleFontSize=30, titleFontWeight="normal", titleColor="black", titlePadding=12)

    # main data line carries the axes; every other layer leaves axes unspecified
    layers = [alt.Chart(df).mark_line(color=color, strokeWidth=2.2, clip=True).encode(
        x=alt.X("t:Q", scale=xs, axis=xaxis), y=alt.Y("v:Q", scale=ys, axis=yaxis), detail="seg:N")]
    if zero:
        layers.append(alt.Chart(pd.DataFrame({"v": [0]})).mark_rule(color="black", strokeWidth=1, strokeDash=[3, 7])
                      .encode(y="v:Q"))
    layers.append(alt.Chart(ddf).mark_circle(color=color, size=8, opacity=1).encode(x="t:Q", y="v:Q"))

    # shock marker: orange glow + thick dashed black line
    sdf = pd.DataFrame({"t": [SHOCK_T]})
    g0 = -10 if first else 0
    g1 = H + 6 if last else H
    for w, op in [(30, 0.16), (24, 0.22), (17, 0.32)]:
        layers.append(alt.Chart(sdf).mark_rule(color="#f39c55", strokeWidth=w, opacity=op).encode(
            x="t:Q", y=alt.value(g0), y2=alt.value(g1)))
    d0 = 4 if first else 0
    d1 = H - 6 if last else H
    off = 0 if first else (223 * i - 4) % DASH_PERIOD
    layers.append(alt.Chart(sdf).mark_rule(color="black", strokeWidth=6, strokeDash=[45, 18],
                                           strokeDashOffset=off).encode(
        x="t:Q", y=alt.value(d0), y2=alt.value(d1)))

    # inward ticks
    for vals, L in [(X_MAJOR, 11), (X_MINOR, 6)]:
        tdf = pd.DataFrame({"t": vals})
        layers.append(alt.Chart(tdf).mark_rule(color=TICK, strokeWidth=1.2).encode(
            x="t:Q", y=alt.value(0), y2=alt.value(L)))
        layers.append(alt.Chart(tdf).mark_rule(color=TICK, strokeWidth=1.2).encode(
            x="t:Q", y=alt.value(H), y2=alt.value(H - L)))
    lo, hi = domain
    n = int(round((hi - lo) / minor_step))
    minors = [lo + k * minor_step for k in range(1, n) if (lo + k * minor_step) not in majors]
    inner_majors = [m for m in majors if lo < m < hi]
    for vals, L in [(inner_majors, 18), (minors, 9)]:
        vdf = pd.DataFrame({"v": vals})
        layers.append(alt.Chart(vdf).mark_rule(color=TICK, strokeWidth=1.2).encode(
            y="v:Q", x=alt.value(0), x2=alt.value(L)))
        layers.append(alt.Chart(vdf).mark_rule(color=TICK, strokeWidth=1.2).encode(
            y="v:Q", x=alt.value(W), x2=alt.value(W - L)))

    if first:
        layers.append(alt.Chart(pd.DataFrame({"label": TITLE_TEXT})).mark_text(
            font="DejaVu Serif", fontSize=83, baseline="alphabetic", align="center", color="black"
        ).encode(x=alt.value(W / 2), y=alt.value(-29), text="label:N"))

    return alt.layer(*layers).properties(width=W, height=H)


panels = [make_panel(i, *p) for i, p in enumerate(PANELS)]
chart = alt.vconcat(*panels, spacing=0, bounds="flush").properties(
    padding={"left": 27, "top": 17, "right": -14, "bottom": -8}
).configure_view(stroke="#333333", strokeWidth=1.5)

chart.save("out.html", embed_options={"renderer": "svg", "actions": False})
